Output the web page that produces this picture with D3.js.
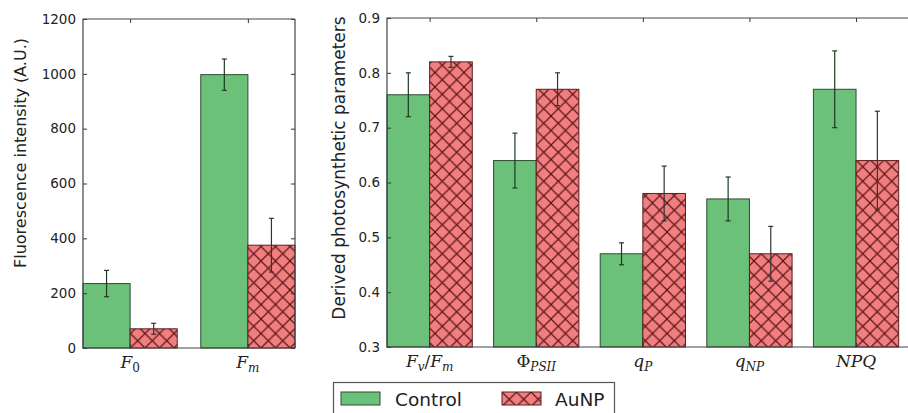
<!DOCTYPE html>
<html>
<head>
<meta charset="utf-8">
<script src="https://cdn.jsdelivr.net/npm/d3@7"></script>
<style>
  body { margin: 0; background: #fff; }
  svg { display: block; }
  .tick text { font-family: "DejaVu Sans", sans-serif; font-size: 13.5px; fill: #222; }
  .domain { display: none; }
  .tick line { stroke: #333; }
</style>
</head>
<body>
<svg id="chart" width="908" height="413"></svg>
<script>
// left panel: raw fluorescence
const leftCats = ["F0", "Fm"];
const leftControl = [235, 997];
const leftControlErr = [48, 57];
const leftAunp = [70, 375];
const leftAunpErr = [20, 98];
const leftTicks = [0, 200, 400, 600, 800, 1000, 1200];

// right panel: derived parameters
const rightCats = ["FvFm", "PhiPSII", "qP", "qNP", "NPQ"];
const rightControl = [0.76, 0.64, 0.47, 0.57, 0.77];
const rightControlErr = [0.04, 0.05, 0.02, 0.04, 0.07];
const rightAunp = [0.82, 0.77, 0.58, 0.47, 0.64];
const rightAunpErr = [0.01, 0.03, 0.05, 0.05, 0.09];
const rightTicks = [0.3, 0.4, 0.5, 0.6, 0.7, 0.8, 0.9];

const seriesNames = ["Control", "AuNP"];

const green = "#6cc17a";
const red = "#f27f80";
const barW = 0.4;

const svg = d3.select("#chart");

// hatch pattern ('x')
const hs = 14.5;
const pat = svg.append("defs").append("pattern")
  .attr("id", "hatch")
  .attr("patternUnits", "userSpaceOnUse")
  .attr("width", hs).attr("height", hs);
pat.append("rect").attr("width", hs).attr("height", hs).attr("fill", red);
pat.append("path")
  .attr("d", `M0 0 L${hs} ${hs} M0 ${hs} L${hs} 0`)
  .attr("stroke", "#5a1518").attr("stroke-width", 1.2);

// label builders for the math-style tick labels
const labelParts = {
  F0: [["F", "i", 0], ["0", "n", 1]],
  Fm: [["F", "i", 0], ["m", "i", 1]],
  FvFm: [["F", "i", 0], ["v", "i", 1], ["/", "n", 0], ["F", "i", 0], ["m", "i", 1]],
  PhiPSII: [["Φ", "n", 0], ["PSII", "i", 1]],
  qP: [["q", "i", 0], ["P", "i", 1]],
  qNP: [["q", "i", 0], ["NP", "i", 1]],
  NPQ: [["NPQ", "i", 0]]
};

function mathLabel(g, x, y, key) {
  const t = g.append("text")
    .attr("x", x).attr("y", y)
    .attr("text-anchor", "middle")
    .attr("font-family", "'DejaVu Serif', serif")
    .attr("font-size", 17)
    .attr("fill", "#222");
  let prevSub = 0;
  labelParts[key].forEach(([s, style, sub]) => {
    const ts = t.append("tspan").text(s)
      .attr("font-style", style === "i" ? "italic" : "normal");
    if (sub) ts.attr("font-size", 12);
    if (sub !== prevSub) ts.attr("dy", sub ? 4 : -4);
    prevSub = sub;
  });
}

function panel(opts) {
  const { cats, ctrl, ctrlErr, aunp, aunpErr, ticks, x, y, fmt, yLabel, yLabelX, yLabelY, yLabelSize, clipW } = opts;
  const g = svg.append("g");
  const [x0, x1] = x.range();
  const [yb, yt] = y.range();
  const right = Math.min(x1, clipW);

  const bars = [];
  cats.forEach((c, i) => {
    bars.push({ s: 0, x: i, v: ctrl[i], e: ctrlErr[i] });
    bars.push({ s: 1, x: i + barW, v: aunp[i], e: aunpErr[i] });
  });

  g.selectAll("rect.bar").data(bars).enter().append("rect")
    .attr("class", "bar")
    .attr("x", d => x(d.x))
    .attr("width", d => x(d.x + barW) - x(d.x))
    .attr("y", d => y(d.v))
    .attr("height", d => y(y.domain()[0]) - y(d.v))
    .attr("fill", d => d.s ? "url(#hatch)" : green)
    .attr("stroke", d => d.s ? "#5a1f20" : "#2e4a30")
    .attr("stroke-width", 1);

  // error bars
  const eb = g.selectAll("g.err").data(bars).enter().append("g").attr("class", "err");
  const cx = d => x(d.x + barW / 2);
  eb.append("line")
    .attr("x1", cx).attr("x2", cx)
    .attr("y1", d => y(d.v - d.e)).attr("y2", d => y(d.v + d.e));
  eb.append("line")
    .attr("x1", d => cx(d) - 2.5).attr("x2", d => cx(d) + 2.5)
    .attr("y1", d => y(d.v + d.e)).attr("y2", d => y(d.v + d.e));
  eb.append("line")
    .attr("x1", d => cx(d) - 2.5).attr("x2", d => cx(d) + 2.5)
    .attr("y1", d => y(d.v - d.e)).attr("y2", d => y(d.v - d.e));
  eb.selectAll("line").attr("stroke", d => d.s ? "#333" : "#1d3a1f").attr("stroke-width", 1.2);

  // y axes, ticks pointing inside
  g.append("g").attr("transform", `translate(${x0},0)`)
    .call(d3.axisLeft(y).tickValues(ticks).tickSize(-4).tickPadding(7).tickFormat(fmt));
  if (x1 <= clipW) {
    g.append("g").attr("transform", `translate(${x1},0)`)
      .call(d3.axisRight(y).tickValues(ticks).tickSize(-4).tickFormat(""));
  }
  const tickPos = cats.map((c, i) => i + barW);
  g.append("g").attr("transform", `translate(0,${yb})`)
    .call(d3.axisBottom(x).tickValues(tickPos).tickSize(-4).tickFormat(""));
  g.append("g").attr("transform", `translate(0,${yt})`)
    .call(d3.axisTop(x).tickValues(tickPos).tickSize(-4).tickFormat(""));

  // spines
  const sp = g.append("g").attr("stroke", "#444").attr("stroke-width", 1.2).attr("fill", "none");
  sp.append("path").attr("d", `M${right} ${yt} H${x0} V${yb} H${right}`);
  if (x1 <= clipW) sp.append("path").attr("d", `M${x1} ${yt} V${yb}`);

  cats.forEach((c, i) => mathLabel(g, x(i + barW), yb + 20, c));

  g.append("text")
    .attr("transform", `translate(${yLabelX},${yLabelY}) rotate(-90)`)
    .attr("text-anchor", "middle")
    .attr("font-family", "'DejaVu Sans', sans-serif")
    .attr("font-size", yLabelSize)
    .attr("fill", "#222")
    .text(yLabel);
}

panel({
  cats: leftCats, ctrl: leftControl, ctrlErr: leftControlErr,
  aunp: leftAunp, aunpErr: leftAunpErr, ticks: leftTicks,
  x: d3.scaleLinear().domain([0, 1.8]).range([83, 295]),
  y: d3.scaleLinear().domain([0, 1200]).range([348, 19]),
  fmt: d3.format("d"),
  yLabel: "Fluorescence intensity (A.U.)", yLabelX: 26, yLabelY: 153, yLabelSize: 16, clipW: 908
});

panel({
  cats: rightCats, ctrl: rightControl, ctrlErr: rightControlErr,
  aunp: rightAunp, aunpErr: rightAunpErr, ticks: rightTicks,
  x: d3.scaleLinear().domain([0, 5]).range([387, 920]),
  y: d3.scaleLinear().domain([0.3, 0.9]).range([347, 18]),
  fmt: d3.format(".1f"),
  yLabel: "Derived photosynthetic parameters", yLabelX: 345, yLabelY: 168, yLabelSize: 17, clipW: 908
});

// legend
const lg = svg.append("g");
lg.append("rect").attr("x", 333.5).attr("y", 382.5).attr("width", 281).attr("height", 40)
  .attr("fill", "#fff").attr("stroke", "#555").attr("stroke-width", 1.2);
const items = lg.selectAll("g.item").data(seriesNames).enter().append("g")
  .attr("transform", (d, i) => `translate(${i ? 502 : 341},392)`);
items.append("rect").attr("width", 39).attr("height", 13)
  .attr("fill", (d, i) => i ? "url(#hatch)" : green)
  .attr("stroke", (d, i) => i ? "#5a1f20" : "#2e4a30");
items.append("text").attr("x", (d, i) => i ? 53 : 54).attr("y", 14)
  .attr("font-family", "'DejaVu Sans', sans-serif").attr("font-size", 18.5).attr("fill", "#222")
  .text(d => d);
</script>
</body>
</html>
